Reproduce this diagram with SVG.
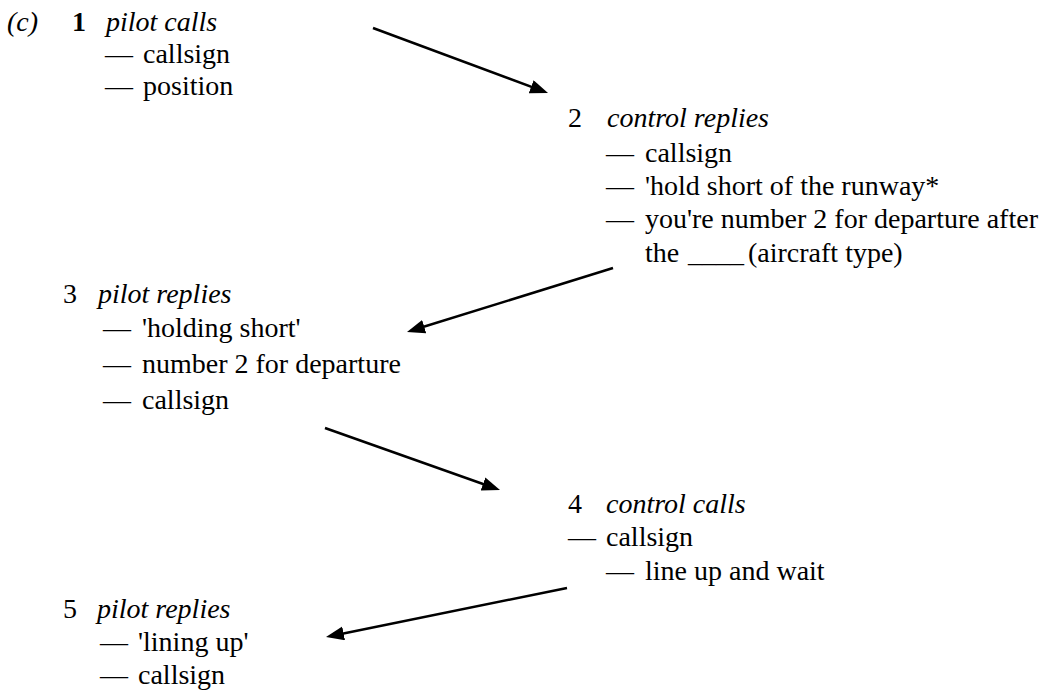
<svg xmlns="http://www.w3.org/2000/svg" width="1044" height="691" viewBox="0 0 1044 691">
<style>
text { font-family: "Liberation Serif", "Times New Roman", "DejaVu Serif", serif; font-size: 28px; fill: #000; }
.it { font-style: italic; }
.b { font-weight: bold; }
.conn { stroke: #000; stroke-width: 2.5; fill: none; marker-end: url(#ah); }
</style>
<defs>
<marker id="ah" markerUnits="userSpaceOnUse" markerWidth="19" markerHeight="15" refX="9" refY="7" orient="auto">
<path d="M0,0 L18,7 L0,14 z" fill="#000"/>
</marker>
</defs>
<rect width="1044" height="691" fill="#fff"/>
<g id="node1">
<text class="it" x="7" y="31">(c)</text>
<text class="b" x="72" y="31">1</text>
<text class="it" x="106" y="31">pilot calls</text>
<text y="63"><tspan x="105">—</tspan><tspan x="143">callsign</tspan></text>
<text y="95"><tspan x="105">—</tspan><tspan x="143">position</tspan></text>
</g>
<g id="node2">
<text x="568" y="127">2</text>
<text class="it" x="607" y="127">control replies</text>
<text y="162"><tspan x="606">—</tspan><tspan x="645">callsign</tspan></text>
<text y="195"><tspan x="606">—</tspan><tspan x="645">'hold short of the runway*</tspan></text>
<text y="228"><tspan x="606">—</tspan><tspan x="645">you're number 2 for departure after</tspan></text>
<text y="262"><tspan x="645">the</tspan><tspan x="688">____</tspan><tspan x="748">(aircraft type)</tspan></text>
</g>
<g id="node3">
<text x="63" y="303">3</text>
<text class="it" x="98" y="303">pilot replies</text>
<text y="337"><tspan x="103">—</tspan><tspan x="142">'holding short'</tspan></text>
<text y="373"><tspan x="103">—</tspan><tspan x="142">number 2 for departure</tspan></text>
<text y="409"><tspan x="103">—</tspan><tspan x="142">callsign</tspan></text>
</g>
<g id="node4">
<text x="568" y="513">4</text>
<text class="it" x="606" y="513">control calls</text>
<text y="546"><tspan x="568">—</tspan><tspan x="606">callsign</tspan></text>
<text y="580"><tspan x="606">—</tspan><tspan x="645">line up and wait</tspan></text>
</g>
<g id="node5">
<text x="63" y="618">5</text>
<text class="it" x="97" y="618">pilot replies</text>
<text y="651"><tspan x="100">—</tspan><tspan x="138">'lining up'</tspan></text>
<text y="684"><tspan x="100">—</tspan><tspan x="138">callsign</tspan></text>
</g>
<g id="connectors">
<line class="conn" x1="373" y1="28" x2="539.6" y2="89.9"/>
<line class="conn" x1="613" y1="268" x2="415.6" y2="329.3"/>
<line class="conn" x1="325" y1="428" x2="491.5" y2="487"/>
<line class="conn" x1="567" y1="588" x2="334.8" y2="635.2"/>
</g>
</svg>
